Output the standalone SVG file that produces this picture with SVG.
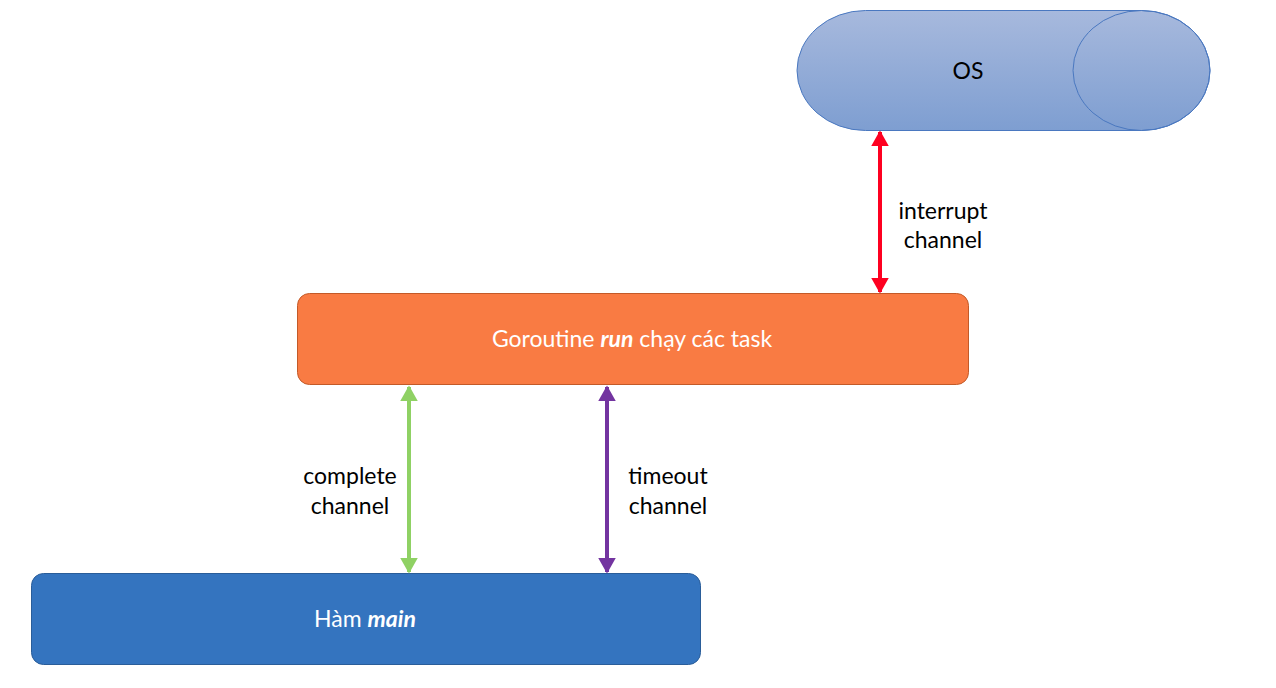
<svg xmlns="http://www.w3.org/2000/svg" width="1276" height="688" viewBox="0 0 1276 688">
<style>
.lbl{font-family:Lato,"Open Sans","Liberation Sans",sans-serif;font-size:23px;fill:#000;text-anchor:middle}
.in{font-family:Lato,"Open Sans","Liberation Sans",sans-serif;font-size:23px;fill:#fff;text-anchor:middle}
.conn{stroke-width:4;fill:none}
</style>
<defs>
<linearGradient id="osg" x1="0" y1="0" x2="0" y2="1">
<stop offset="0" stop-color="#a7b9dd"/>
<stop offset="1" stop-color="#7e9ed1"/>
</linearGradient>
<marker id="mr" viewBox="0 0 10 10" refX="9" refY="5" markerWidth="4" markerHeight="4.5" orient="auto-start-reverse" markerUnits="strokeWidth" preserveAspectRatio="none"><path d="M0 0L10 5L0 10Z" fill="#fe0020"/></marker>
<marker id="mg" viewBox="0 0 10 10" refX="9" refY="5" markerWidth="4" markerHeight="4.5" orient="auto-start-reverse" markerUnits="strokeWidth" preserveAspectRatio="none"><path d="M0 0L10 5L0 10Z" fill="#8fd164"/></marker>
<marker id="mp" viewBox="0 0 10 10" refX="9" refY="5" markerWidth="4" markerHeight="4.5" orient="auto-start-reverse" markerUnits="strokeWidth" preserveAspectRatio="none"><path d="M0 0L10 5L0 10Z" fill="#7334a0"/></marker>
</defs>
<rect width="1276" height="688" fill="#fff"/>
<g id="os">
<path d="M865.5 10.5L1141.5 10.5A68.5 60 0 0 1 1141.5 130.5L865.5 130.5A68.5 60 0 0 1 865.5 10.5Z" fill="url(#osg)" stroke="#4a78c0" stroke-width="1"/>
<ellipse cx="1141.5" cy="70.5" rx="68.5" ry="60" fill="none" stroke="#4a78c0" stroke-width="1"/>
<text class="lbl" x="968" y="79">OS</text>
</g>
<g id="run">
<rect x="297.5" y="293.5" width="671" height="91" rx="12" fill="#f97b43" stroke="#c35a28" stroke-width="1"/>
<text class="in" x="632" y="347">Goroutine <tspan font-weight="bold" font-style="italic">run</tspan> chạy các task</text>
</g>
<g id="main">
<rect x="31.5" y="573.5" width="669" height="91" rx="12" fill="#3474bf" stroke="#2a5d99" stroke-width="1"/>
<text class="in" x="365" y="627">Hàm <tspan font-weight="bold" font-style="italic">main</tspan></text>
</g>
<g id="connectors">
<line class="conn" x1="880" y1="132" x2="880" y2="292" stroke="#fe0020" marker-start="url(#mr)" marker-end="url(#mr)"/>
<line class="conn" x1="409" y1="387" x2="409" y2="572" stroke="#8fd164" marker-start="url(#mg)" marker-end="url(#mg)"/>
<line class="conn" x1="607" y1="387" x2="607" y2="572" stroke="#7334a0" marker-start="url(#mp)" marker-end="url(#mp)"/>
<text class="lbl" x="943" y="219">interrupt</text>
<text class="lbl" x="943" y="248">channel</text>
<text class="lbl" x="350" y="484">complete</text>
<text class="lbl" x="350" y="514">channel</text>
<text class="lbl" x="668" y="484">timeout</text>
<text class="lbl" x="668" y="514">channel</text>
</g>
</svg>
